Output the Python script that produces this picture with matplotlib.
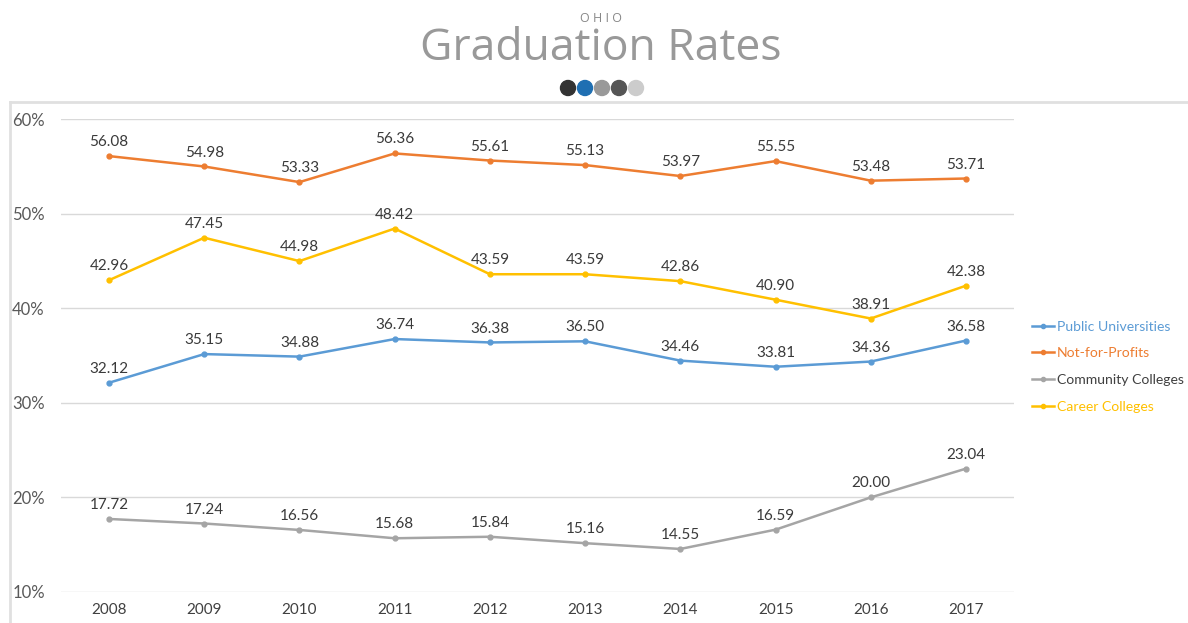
import matplotlib
matplotlib.use("Agg")
import matplotlib.pyplot as plt
from matplotlib.lines import Line2D
from matplotlib.patches import Ellipse

years = ["2008", "2009", "2010", "2011", "2012", "2013", "2014", "2015", "2016", "2017"]
public_univ = [32.12, 35.15, 34.88, 36.74, 36.38, 36.50, 34.46, 33.81, 34.36, 36.58]
not_for_profit = [56.08, 54.98, 53.33, 56.36, 55.61, 55.13, 53.97, 55.55, 53.48, 53.71]
community = [17.72, 17.24, 16.56, 15.68, 15.84, 15.16, 14.55, 16.59, 20.00, 23.04]
career = [42.96, 47.45, 44.98, 48.42, 43.59, 43.59, 42.86, 40.90, 38.91, 42.38]
series_names = ["Public Universities", "Not-for-Profits", "Community Colleges", "Career Colleges"]
y_ticks = [10, 20, 30, 40, 50, 60]

colors = ["#5b9bd5", "#ed7d31", "#a5a5a5", "#ffc000"]
text_colors = ["#5b9bd5", "#ed7d31", "#404040", "#ffc000"]

plt.rcParams['font.family'] = ['Lato', 'DejaVu Sans']

W, H = 1188, 623
fig = plt.figure(figsize=(W/100, H/100), dpi=100)
ax = fig.add_axes([61.4/W, 1-592/H, (1013.6-61.4)/W, (592-119)/H])

x = list(range(len(years)))
all_series = [public_univ, not_for_profit, community, career]
for vals, c in zip(all_series, colors):
    ax.plot(x, vals, color=c, lw=1.8, marker='o', ms=3.5, zorder=3)
    for xi, v in zip(x, vals):
        ax.annotate(f"{v:.2f}", (xi, v), xytext=(0, 5), textcoords='offset points',
                    ha='center', va='bottom', fontsize=11, color='#3a3a3a')

ax.set_xlim(-0.5, len(years)-0.5)
ax.set_ylim(10, 60)
ax.set_yticks(y_ticks)
ax.set_yticklabels([f"{t}%" for t in y_ticks], fontsize=12, color='#595959')
ax.set_xticks(x)
ax.set_xticklabels(years, fontsize=11, color='#404040')
ax.tick_params(length=0, pad=8)
ax.tick_params(axis='y', pad=12)
ax.grid(axis='y', color='#d9d9d9', lw=1)
ax.set_axisbelow(True)
for s in ax.spines.values():
    s.set_visible(False)

# legend
handles = [Line2D([0], [0], color=c, lw=1.8, marker='o', ms=3) for c in colors]
leg = fig.legend(handles, series_names, loc='upper left', bbox_to_anchor=(1026/W, 1-315/H),
                 frameon=False, fontsize=10.1, handlelength=1.6, handletextpad=0.2,
                 labelspacing=1.05, borderaxespad=0)
for t, tc in zip(leg.get_texts(), text_colors):
    t.set_color(tc)

# frame lines
fig.add_artist(Line2D([10/W, 1], [1-102/H, 1-102/H], color='#e0e0e0', lw=2, transform=fig.transFigure))
fig.add_artist(Line2D([10/W, 10/W], [0, 1-102/H], color='#e0e0e0', lw=2, transform=fig.transFigure))

# titles
fig.text(601/W, 1-18/H, "O H I O", ha='center', va='center', fontsize=9, color='#888888',
         family=['Open Sans', 'DejaVu Sans'])
fig.text(601/W, 1-49/H, "Graduation Rates", ha='center', va='center', fontsize=32, color='#999999',
         family=['Open Sans', 'DejaVu Sans'])
dot_colors = ["#333333", "#1f6fb2", "#999999", "#555555", "#cccccc"]
for i, dc in enumerate(dot_colors):
    fig.add_artist(Ellipse(((568 + i*17)/W, 1-88/H), 15/W, 15/H, color=dc,
                           transform=fig.transFigure))

fig.savefig("out.png", dpi=100)
